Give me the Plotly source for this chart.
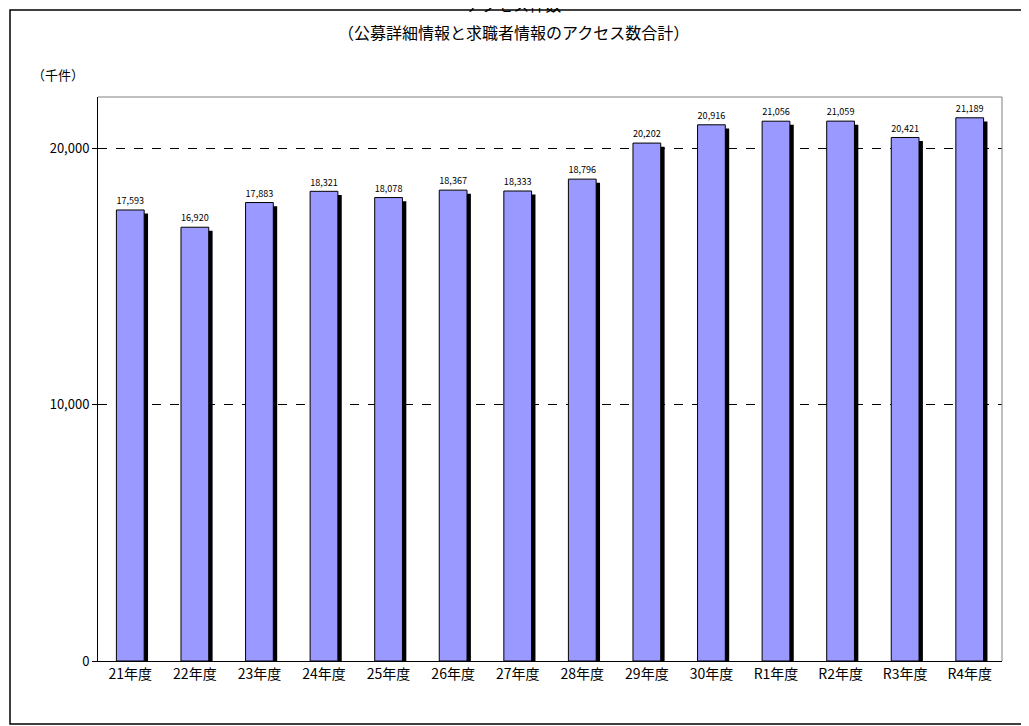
import plotly.graph_objects as go

years = ["21年度", "22年度", "23年度", "24年度", "25年度", "26年度", "27年度",
         "28年度", "29年度", "30年度", "R1年度", "R2年度", "R3年度", "R4年度"]
access = [17593, 16920, 17883, 18321, 18078, 18367, 18333,
          18796, 20202, 20916, 21056, 21059, 20421, 21189]

font = "Noto Sans CJK JP, sans-serif"

# drop shadow behind each bar
shadow = go.Bar(
    x=years, y=[v - 140 for v in access],
    width=0.43, offset=-0.215 + 0.06,
    marker=dict(color="black", line=dict(width=0)),
    hoverinfo="skip", showlegend=False)

bars = go.Bar(
    x=years, y=access,
    width=0.43, offset=-0.215,
    marker=dict(color="#9999FF", line=dict(color="black", width=1)),
    text=[f"{v:,}" for v in access], textposition="outside",
    textfont=dict(size=13, color="black", family=font),
    cliponaxis=False, showlegend=False)

# page body has an 8px margin, so the figure is drawn slightly smaller
layout = go.Layout(
    width=1021, height=718,
    margin=dict(l=90, r=27, t=89, b=65),
    paper_bgcolor="white", plot_bgcolor="white",
    font=dict(family=font, color="black", size=13),
    annotations=[
        dict(text="アクセス件数", xref="paper", yref="paper", x=0.46, y=1.14,
             xanchor="center", yanchor="bottom", showarrow=False,
             font=dict(size=16)),
        dict(text="（公募詳細情報と求職者情報のアクセス数合計）", xref="paper",
             yref="paper", x=0.46, y=1.09, xanchor="center", yanchor="bottom",
             showarrow=False, font=dict(size=16)),
        dict(text="（千件）", xref="paper", yref="paper",
             x=-0.075, y=1.02, xanchor="left", yanchor="bottom",
             showarrow=False, font=dict(size=13)),
    ],
    barmode="overlay",
    xaxis=dict(showline=True, linecolor="black", ticks="", showgrid=False,
               tickfont=dict(size=14)),
    yaxis=dict(range=[0, 22000], tickvals=[0, 10000, 20000],
               tickformat=",d", showline=True, linecolor="black",
               ticks="outside", ticklen=5, tickcolor="black",
               showgrid=True, gridcolor="black", griddash="dash",
               gridwidth=1, zeroline=False, tickfont=dict(size=13)),
    shapes=[
        dict(type="line", xref="paper", yref="paper", x0=0, x1=1, y0=1, y1=1,
             line=dict(color="#808080", width=1)),
        dict(type="line", xref="paper", yref="paper", x0=1, x1=1, y0=0, y1=1,
             line=dict(color="#808080", width=1)),
        dict(type="rect", xref="paper", yref="paper",
             x0=-88 / 904, x1=1 + 25 / 904, y0=-63 / 564, y1=1 + 87 / 564,
             line=dict(color="black", width=1.5)),
    ],
)

fig = go.Figure(data=[shadow, bars], layout=layout)
fig.write_html("out.html")
